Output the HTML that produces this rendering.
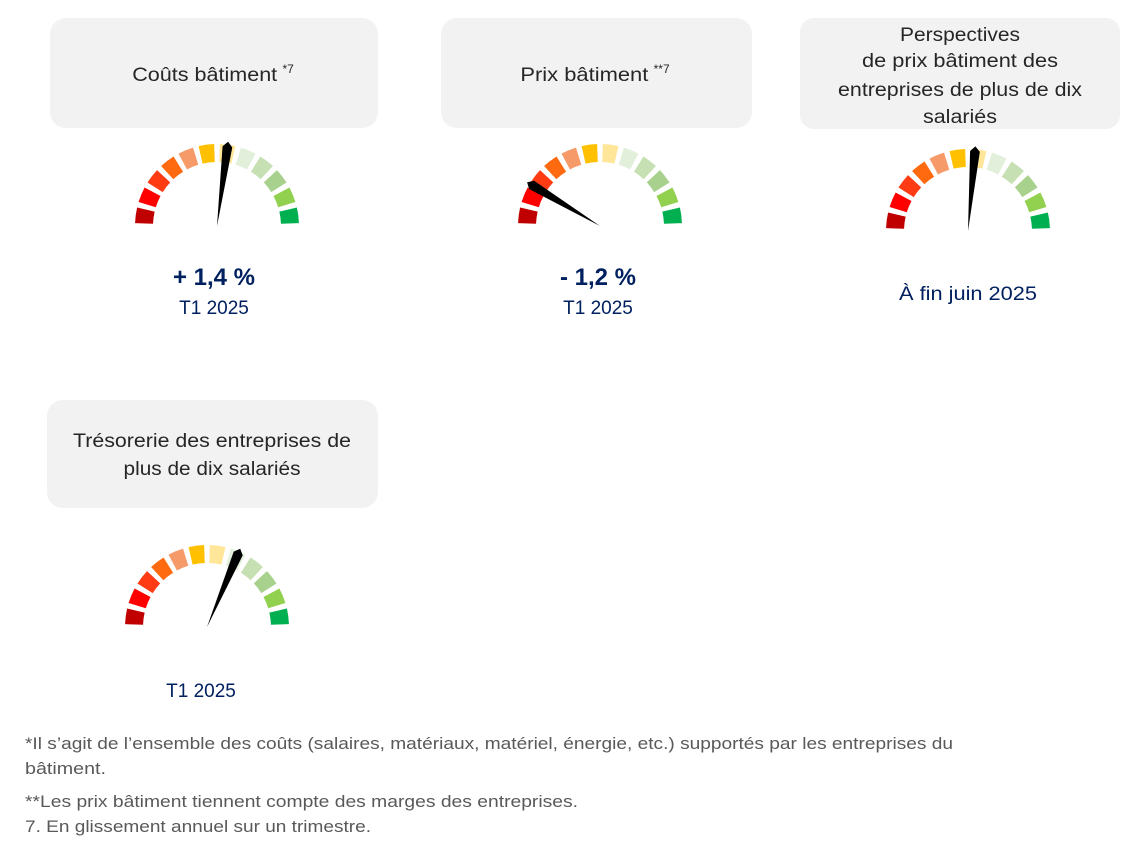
<!DOCTYPE html>
<html><head><meta charset="utf-8"><style>
body{margin:0;background:#fff;width:1148px;height:844px;overflow:hidden;font-family:"Liberation Sans",sans-serif}
</style></head><body>
<svg id="s" width="1148" height="844" xmlns="http://www.w3.org/2000/svg" font-family="Liberation Sans, sans-serif">
<rect x="50" y="18" width="328" height="110" rx="16" fill="#f2f2f2"/>
<rect x="441" y="18" width="311" height="110" rx="16" fill="#f2f2f2"/>
<rect x="800" y="18" width="320" height="111" rx="14" fill="#f2f2f2"/>
<rect x="47" y="400" width="331" height="108" rx="16" fill="#f2f2f2"/>
<g font-size="19" fill="#262626" text-anchor="middle">
<text x="213" y="81"><tspan textLength="145" lengthAdjust="spacingAndGlyphs">Coûts bâtiment</tspan> <tspan font-size="12" dy="-8">*7</tspan></text>
<text x="595" y="81"><tspan textLength="128" lengthAdjust="spacingAndGlyphs">Prix bâtiment</tspan> <tspan font-size="12" dy="-8">**7</tspan></text>
<text x="960" y="41" textLength="120" lengthAdjust="spacingAndGlyphs">Perspectives</text>
<text x="960" y="67" textLength="196" lengthAdjust="spacingAndGlyphs">de prix bâtiment des</text>
<text x="960" y="96" textLength="244" lengthAdjust="spacingAndGlyphs">entreprises de plus de dix</text>
<text x="960" y="123" textLength="74" lengthAdjust="spacingAndGlyphs">salariés</text>
<text x="212" y="447" textLength="278" lengthAdjust="spacingAndGlyphs">Trésorerie des entreprises de</text>
<text x="212" y="475" textLength="177" lengthAdjust="spacingAndGlyphs">plus de dix salariés</text>
</g>
<g fill="#002060" text-anchor="middle">
<text x="214" y="285" font-size="24" font-weight="bold">+ 1,4 %</text>
<text x="214" y="314" font-size="19">T1 2025</text>
<text x="598" y="285" font-size="24" font-weight="bold">- 1,2 %</text>
<text x="598" y="314" font-size="19">T1 2025</text>
<text x="968" y="300" font-size="19" textLength="138" lengthAdjust="spacingAndGlyphs">À fin juin 2025</text>
<text x="201" y="697" font-size="19">T1 2025</text>
</g>
<g fill="#595959" font-size="16.5">
<text x="25" y="749" textLength="928" lengthAdjust="spacingAndGlyphs">*Il s’agit de l’ensemble des coûts (salaires, matériaux, matériel, énergie, etc.) supportés par les entreprises du</text>
<text x="25" y="774" textLength="81" lengthAdjust="spacingAndGlyphs">bâtiment.</text>
<text x="25" y="807" textLength="553" lengthAdjust="spacingAndGlyphs">**Les prix bâtiment tiennent compte des marges des entreprises.</text>
<text x="25" y="832" textLength="346" lengthAdjust="spacingAndGlyphs">7. En glissement annuel sur un trimestre.</text>
</g>
<g id="g"></g>
</svg>
<script>
var cols=["#c00000","#ff0000","#ff3b14","#ff6a10","#f79a6a","#ffc000","#ffe699","#e2efda","#c6e0b4","#a9d18e","#92d050","#00b050"];
var g=document.getElementById("g"),NS="http://www.w3.org/2000/svg";
function P(cx,cy,r,a){a=a*Math.PI/180;return [cx+r*Math.cos(a),cy-r*Math.sin(a)];}
function gauge(cx,cy,na){
 for(var i=0;i<12;i++){
  var a0=180-i*15-2,a1=180-(i+1)*15+2,R=82,r=64;
  var p1=P(cx,cy,R,a0),p2=P(cx,cy,R,a1),p3=P(cx,cy,r,a1),p4=P(cx,cy,r,a0);
  var e=document.createElementNS(NS,"path");
  e.setAttribute("d","M"+p1+"A"+R+" "+R+" 0 0 1 "+p2+"L"+p3+"A"+r+" "+r+" 0 0 0 "+p4+"Z");
  e.setAttribute("fill",cols[i]);g.appendChild(e);
 }
 var t=P(cx,cy,85,na),b1=P(cx,cy,80,na+3.5),b2=P(cx,cy,80,na-3.5);
 var n=document.createElementNS(NS,"path");
 n.setAttribute("d","M"+[cx,cy]+"L"+b1+"L"+t+"L"+b2+"Z");
 n.setAttribute("fill","#000");g.appendChild(n);
}
gauge(217,226,82.5);gauge(600,226,149);gauge(968,231,85);gauge(207,627,67);
</script>
</body></html>
